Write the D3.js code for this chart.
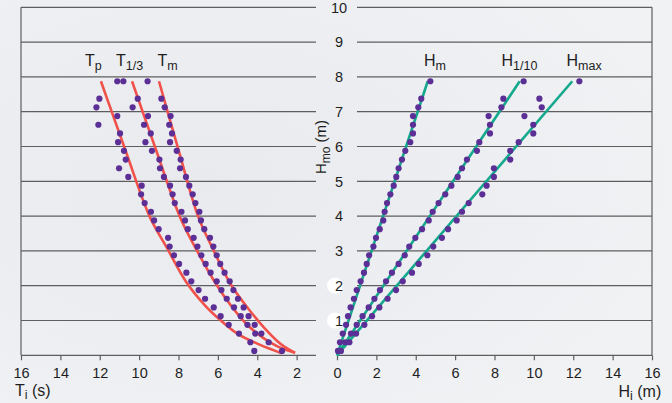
<!DOCTYPE html>
<html><head><meta charset="utf-8">
<script src="https://cdn.jsdelivr.net/npm/d3@7"></script>
<style>
html,body{margin:0;padding:0;background:#edeff2;}
svg{display:block;font-family:"Liberation Sans",Arial,Helvetica,sans-serif;}
</style></head>
<body>
<svg id="c" width="672" height="403"></svg>
<script>
// H_mo bin centres (m)
const hmo = [0.125,0.375,0.625,0.875,1.125,1.375,1.625,1.875,2.125,2.375,2.625,2.875,3.125,3.375,3.625,3.875,
             4.125,4.375,4.625,4.875,5.125,5.375,5.625,5.875,6.125,6.375,6.625,6.875,7.125,7.375,7.625,7.875];
// periods (s)
const Tp   = [4.15,4.35,4.93,5.45,5.86,6.21,6.65,6.98,7.35,7.60,7.97,8.23,8.45,8.53,9.01,9.24,
              9.40,9.72,9.90,9.87,10.55,11.02,10.68,10.77,11.07,10.97,12.07,11.11,12.17,12.02,null,11.11];
const T13  = [2.74,3.42,4.10,4.50,4.84,5.18,5.55,5.82,6.06,6.37,6.62,6.84,7.04,7.23,7.53,7.67,
              7.85,8.19,8.30,8.43,8.74,8.94,8.97,9.35,9.68,9.41,9.75,9.55,10.33,10.07,null,10.80];
const Tm   = [null,null,3.79,4.13,4.44,4.69,4.98,5.21,5.40,5.66,5.88,6.06,6.23,6.40,6.69,6.86,
              6.94,7.14,7.28,7.45,7.62,7.92,7.89,8.09,8.43,8.33,8.47,8.40,8.70,8.87,null,9.57];
// heights (m)
const Hm   = [0.05,0.15,0.29,0.46,0.56,0.69,0.86,1.00,1.20,1.37,1.51,1.63,1.85,1.98,2.17,2.35,
              2.42,2.54,2.71,2.88,3.01,3.13,3.30,3.47,3.72,3.86,3.86,3.86,4.13,4.28,null,4.74];
const H110 = [0.15,0.42,0.71,1.00,1.30,1.61,1.90,2.18,2.49,2.79,3.13,3.44,3.67,3.98,4.32,4.66,
              4.86,5.16,5.50,5.81,6.13,6.35,6.60,7.11,7.23,7.77,7.77,7.70,8.35,8.45,null,9.48];
const Hmax = [0.20,0.63,0.97,1.39,1.78,2.15,2.57,3.00,3.34,3.81,4.15,4.59,4.89,5.33,5.64,6.08,
              6.35,6.69,7.38,7.60,7.97,7.97,8.80,8.80,9.23,9.97,9.97,9.52,10.40,10.28,null,12.31];
// fitted curves: [H_mo, value]
const fitTp   = [[7.875,11.94],[5.9,10.7],[3.97,9.45],[3.1,8.6],[2.1,7.6],[1.4,6.6],[1.0,5.85],[0.6,4.95],[0.3,3.85],[0.06,2.76]];
const fitT13  = [[7.875,10.36],[5.9,9.14],[3.97,7.92],[3.1,7.15],[2.1,6.15],[1.4,5.3],[0.9,4.55],[0.5,3.7],[0.25,2.95],[0.07,2.08]];
const fitTm   = [[7.875,8.99],[5.9,8.0],[3.97,6.99],[3.03,6.23],[2.07,5.38],[1.4,4.54],[0.82,3.69],[0.34,2.84],[0.07,2.08]];
const fitHm   = [[0,0],[7.875,4.61]];
const fitH110 = [[0,0],[7.875,9.28]];
const fitHmax = [[0,0],[7.875,11.95]];
const xTicksLeft  = [16,14,12,10,8,6,4,2];
const xTicksRight = [0,2,4,6,8,10,12,14,16];
const yTicks = [1,2,3,4,5,6,7,8,9,10];

const svg = d3.select("#c");
const W = 672, H = 403;
const xL = d3.scaleLinear().domain([0,16]).range([336,21]);
const xR = d3.scaleLinear().domain([0,16]).range([337,652]);
const y  = d3.scaleLinear().domain([0,10]).range([355.3,7.3]);

const gridCol = "#5e5e5e", dotCol = "#5b2f95", redCol = "#f0524b", tealCol = "#14a88c", txt = "#1e1e1e";

// background
const defs = svg.append("defs");
const rg = defs.append("radialGradient").attr("id","bg").attr("cx","30%").attr("cy","45%").attr("r","75%");
rg.append("stop").attr("offset","0%").attr("stop-color","#e8eaee");
rg.append("stop").attr("offset","100%").attr("stop-color","#f0f2f4");
svg.append("rect").attr("width",W).attr("height",H).attr("fill","url(#bg)");

// gridlines
const g = svg.append("g");
g.selectAll("line.gl").data([0,...yTicks]).join("line")
  .attr("x1",xL(16)).attr("x2",316).attr("y1",d=>y(d)).attr("y2",d=>y(d))
  .attr("stroke",gridCol).attr("stroke-width",1.2);
g.selectAll("line.gr").data(yTicks).join("line")
  .attr("x1",357).attr("x2",xR(16)).attr("y1",d=>y(d)).attr("y2",d=>y(d))
  .attr("stroke",gridCol).attr("stroke-width",1.2);
g.append("line").attr("x1",xL(16)).attr("x2",xL(16)).attr("y1",y(10)).attr("y2",y(0)).attr("stroke",gridCol).attr("stroke-width",1.2);
g.append("line").attr("x1",xR(16)).attr("x2",xR(16)).attr("y1",y(10)).attr("y2",y(0)).attr("stroke",gridCol).attr("stroke-width",1.2);
g.append("line").attr("x1",xR(0)).attr("x2",xR(16)).attr("y1",y(0)).attr("y2",y(0)).attr("stroke",gridCol).attr("stroke-width",1.2);

// x axes
function styleAxis(sel){
  sel.select(".domain").remove();
  sel.selectAll(".tick line").attr("stroke",gridCol).attr("stroke-width",1.2);
  sel.selectAll(".tick text").attr("fill",txt).attr("font-size",14.5).attr("font-family","Liberation Sans, Arial, sans-serif");
}
svg.append("g").attr("transform",`translate(0,${y(0)})`)
  .call(d3.axisBottom(xL).tickValues(xTicksLeft).tickSize(5).tickPadding(7).tickFormat(d3.format("d")))
  .call(styleAxis);
svg.append("g").attr("transform",`translate(0,${y(0)})`)
  .call(d3.axisBottom(xR).tickValues(xTicksRight).tickSize(5).tickPadding(7).tickFormat(d3.format("d")))
  .call(styleAxis);

// y tick labels (central)
const yl = svg.append("g");
yl.selectAll("circle").data([1,2]).join("circle")
  .attr("cx",335).attr("cy",d=>y(d)).attr("r",8).attr("fill","#ffffff");
yl.selectAll("text").data(yTicks).join("text")
  .attr("x",339).attr("y",d=>y(d)).attr("dy","0.36em").attr("text-anchor","middle")
  .attr("font-size",14.5).attr("fill",txt).text(d=>d);

// y axis title
const yt = svg.append("text").attr("transform","translate(326,147) rotate(-90)")
  .attr("text-anchor","middle").attr("font-size",15).attr("fill",txt);
yt.append("tspan").text("H");
yt.append("tspan").attr("font-size",12).attr("dy",4).text("mo");
yt.append("tspan").attr("dy",-4).text(" (m)");

// fitted curves
const lineL = d3.line().x(d=>xL(d[1])).y(d=>y(d[0])).curve(d3.curveCatmullRom.alpha(0.5));
const lineR = d3.line().x(d=>xR(d[1])).y(d=>y(d[0]));
[fitTp,fitT13,fitTm].forEach(f=>svg.append("path").attr("d",lineL(f)).attr("fill","none").attr("stroke",redCol).attr("stroke-width",2.6));
[fitHm,fitH110,fitHmax].forEach(f=>svg.append("path").attr("d",lineR(f)).attr("fill","none").attr("stroke",tealCol).attr("stroke-width",2.6));

// dots
function dots(vals, xs){
  svg.append("g").selectAll("circle").data(hmo.map((h,i)=>[h,vals[i]]).filter(d=>d[1]!=null)).join("circle")
    .attr("cx",d=>xs(d[1])).attr("cy",d=>y(d[0])).attr("r",3.1).attr("fill",dotCol);
}
dots(Tp,xL); dots(T13,xL); dots(Tm,xL);
dots(Hm,xR); dots(H110,xR); dots(Hmax,xR);

// series labels
function lab(x, main, sub){
  const t = svg.append("text").attr("x",x).attr("y",66).attr("font-size",16).attr("fill",txt);
  t.append("tspan").text(main);
  t.append("tspan").attr("font-size",12.5).attr("dy",4).text(sub);
}
lab(85,"T","p"); lab(116,"T","1/3"); lab(157.5,"T","m");
lab(424,"H","m"); lab(501.5,"H","1/10"); lab(566.5,"H","max");

// axis titles
function title(x, yy, main, sub, rest){
  const t = svg.append("text").attr("x",x).attr("y",yy).attr("font-size",16).attr("fill",txt);
  t.append("tspan").text(main);
  t.append("tspan").attr("font-size",12.5).attr("dy",3).text(sub);
  t.append("tspan").attr("dy",-3).text(rest);
}
title(15,396,"T","i"," (s)");
title(618.5,397,"H","i"," (m)");
</script>
</body></html>
